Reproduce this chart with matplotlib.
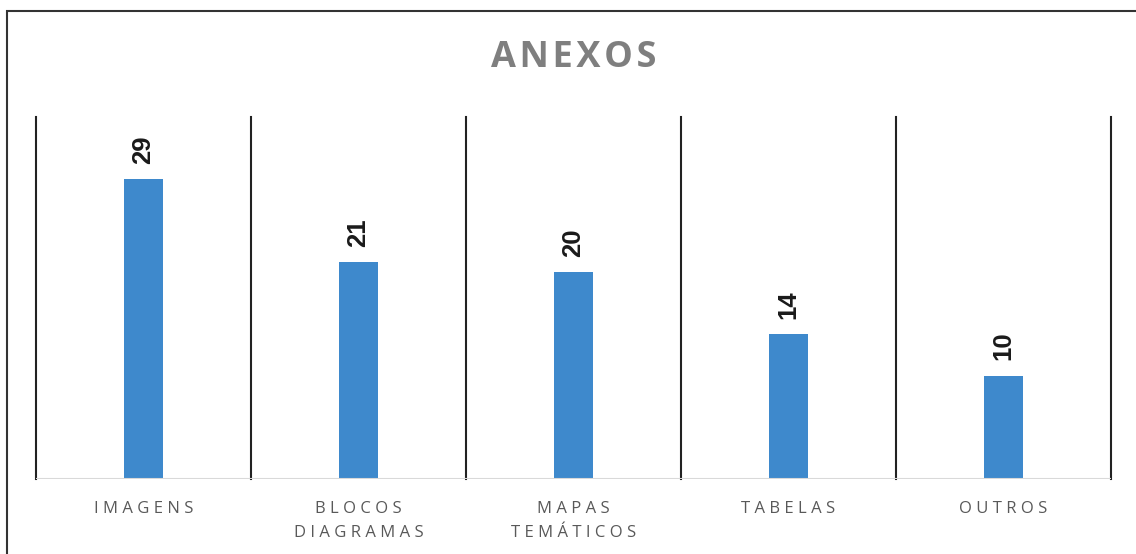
import matplotlib.pyplot as plt
from matplotlib.patches import Rectangle

categorias = ['IMAGENS', 'BLOCOS\nDIAGRAMAS', 'MAPAS\nTEMÁTICOS', 'TABELAS', 'OUTROS']
valores = [29, 21, 20, 14, 10]
titulo = 'ANEXOS'


def espacar(texto, sep=' '):
    # imita o espacamento entre letras do grafico original
    return '\n'.join(sep.join(linha) for linha in texto.split('\n'))


fig = plt.figure(figsize=(11.36, 5.54), dpi=100)

# moldura externa (passa da borda direita e de baixo)
fig.patches.append(Rectangle((7 / 1136, -0.1), 1.2, 1 - 11 / 554 + 0.1,
                             transform=fig.transFigure, fill=False,
                             edgecolor='#333333', linewidth=1.5))

ax = fig.add_axes([36 / 1136, 1 - 479 / 554, (1111 - 36) / 1136, (479 - 117) / 554])

x = range(len(valores))
barras = ax.bar(x, valores, width=0.186, color='#3E89CC')

for b, v in zip(barras, valores):
    ax.annotate(str(v), (b.get_x() + b.get_width() / 2, b.get_height()),
                xytext=(0, 11), textcoords='offset points',
                ha='center', va='bottom', rotation=90,
                fontsize=18.5, fontweight='bold', color='#1a1a1a',
                family=['Liberation Sans', 'DejaVu Sans'])

# linhas verticais separando as categorias
for i in range(len(valores) + 1):
    ax.plot([i - 0.5, i - 0.5], [0, 35], color='#222222', linewidth=1.5,
            clip_on=False)

ax.axhline(0, color='#d9d9d9', linewidth=1.5)

ax.set_xlim(-0.5, len(valores) - 0.5)
ax.set_ylim(0, 35)
for s in ax.spines.values():
    s.set_visible(False)
ax.set_yticks([])
ax.set_xticks(list(x))
ax.set_xticklabels([espacar(c) for c in categorias], fontsize=12,
                   color='#595959', family='Open Sans', linespacing=1.65)
ax.tick_params(axis='x', length=0, pad=16)

fig.text(574 / 1136, 1 - 58 / 554, espacar(titulo, '\u200a'), ha='center', va='center',
         fontsize=26, fontweight='bold', color='#7f7f7f',
         family=['Open Sans', 'DejaVu Sans'])

fig.savefig('out.png', dpi=100)
